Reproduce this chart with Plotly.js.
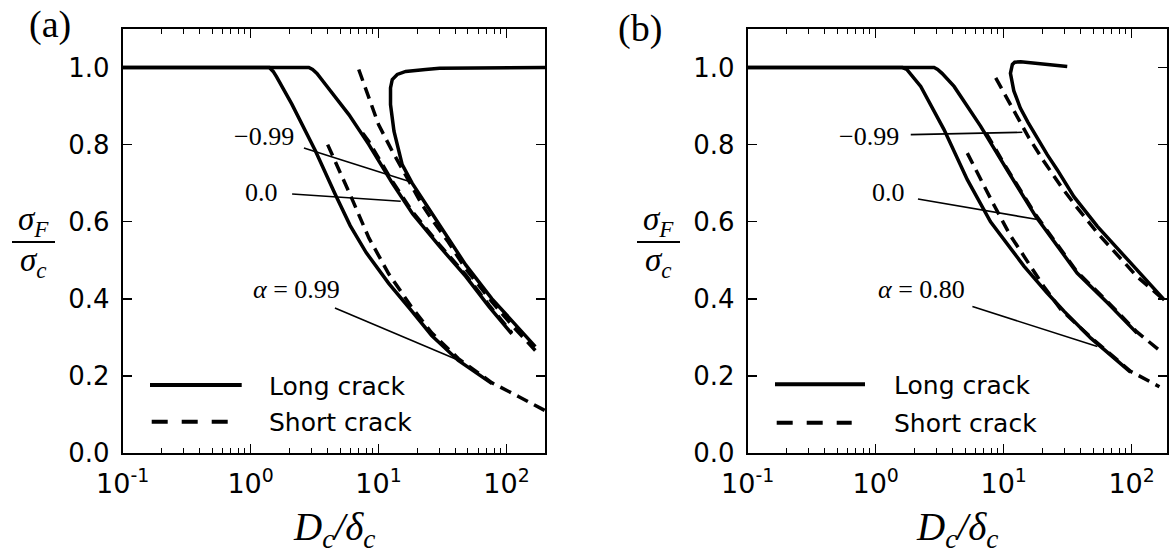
<!DOCTYPE html>
<html><head><meta charset="utf-8">
<script src="https://cdn.plot.ly/plotly-3.0.1.min.js"></script>
<style>body{margin:0;background:#fff}</style>
</head><body><div id="chart" style="width:1172px;height:556px"></div>
<script>
// ---------- Panel (a) data ----------
const a_x_long_099  = [0.1, 1.4, 1.5, 1.6, 2.1, 3.2, 4.6, 6.0, 8.0, 12, 18, 26, 42, 60, 77];
const a_y_long_099  = [1.0, 1.0, 0.99, 0.975, 0.905, 0.785, 0.67, 0.59, 0.52, 0.44, 0.37, 0.305, 0.24, 0.205, 0.18];
const a_x_short_099 = [4.0, 5.0, 6.0, 8.4, 12, 18, 26, 42, 77, 125, 200];
const a_y_short_099 = [0.80, 0.73, 0.67, 0.558, 0.465, 0.38, 0.312, 0.245, 0.182, 0.146, 0.11];
const a_x_long_00   = [0.1, 2.85, 3.05, 3.3, 3.85, 5.86, 8.4, 12.8, 18.5, 30, 48, 73, 110];
const a_y_long_00   = [1.0, 1.0, 0.995, 0.985, 0.956, 0.878, 0.80, 0.70, 0.62, 0.536, 0.458, 0.38, 0.309];
const a_x_short_00  = [7.5, 8.4, 12.8, 18.5, 30, 48, 73, 110];
const a_y_short_00  = [0.83, 0.808, 0.705, 0.625, 0.54, 0.462, 0.384, 0.312];
const a_x_long_m099 = [200, 40, 30, 23.3, 16.3, 14.0, 12.8, 12.4, 12.4, 13.2, 15.3, 18.3, 26.2, 35, 48, 77, 110, 168];
const a_y_long_m099 = [1.0, 1.0, 0.998, 0.995, 0.99, 0.982, 0.969, 0.947, 0.904, 0.835, 0.748, 0.70, 0.62, 0.558, 0.488, 0.40, 0.342, 0.276];
const a_x_short_m099 = [7.0, 8.4, 10.0, 12.8, 16.3, 21.9, 26.2, 35, 48, 77, 110, 168];
const a_y_short_m099 = [0.995, 0.921, 0.852, 0.783, 0.722, 0.644, 0.605, 0.548, 0.478, 0.392, 0.332, 0.266];

// ---------- Panel (b) data ----------
const b_x_long_080  = [0.1, 1.62, 1.75, 1.85, 2.25, 3.42, 5.2, 7.9, 14.4, 21.9, 29.6, 48, 98];
const b_y_long_080  = [1.0, 1.0, 0.995, 0.985, 0.951, 0.839, 0.709, 0.60, 0.485, 0.415, 0.368, 0.298, 0.21];
const b_x_short_080 = [5.2, 6.6, 8.5, 11.2, 15.3, 20.6, 28, 48, 98, 165];
const b_y_short_080 = [0.778, 0.709, 0.64, 0.566, 0.497, 0.432, 0.372, 0.30, 0.212, 0.172];
const b_x_long_00   = [0.1, 2.86, 3.05, 3.3, 4.1, 6.6, 10.6, 17.8, 37.5, 65, 110];
const b_y_long_00   = [1.0, 1.0, 0.995, 0.985, 0.951, 0.848, 0.735, 0.614, 0.467, 0.389, 0.311];
const b_x_short_00  = [7.3, 10.6, 17.8, 37.5, 65, 110, 170];
const b_y_short_00  = [0.83, 0.738, 0.618, 0.47, 0.392, 0.314, 0.263];
const b_x_long_m099 = [31.4, 21.9, 13.6, 12.2, 11.7, 11.3, 12.0, 13.5, 15.5, 21.9, 26.2, 35.4, 54, 104, 180];
const b_y_long_m099 = [1.003, 1.008, 1.015, 1.014, 1.008, 0.985, 0.94, 0.895, 0.858, 0.774, 0.735, 0.665, 0.588, 0.484, 0.397];
const b_x_short_m099 = [8.67, 12.05, 15.8, 20.6, 28.3, 37.6, 54, 110, 175];
const b_y_short_m099 = [0.973, 0.886, 0.817, 0.757, 0.69, 0.636, 0.571, 0.458, 0.40];

// ---------- labels / pointers ----------
const a_labels = ['\u22120.99', '0.0', '<i>\u03b1</i> = 0.99'];
const a_label_x = [2.25, 1.71, 1.0];
const a_label_y = [0.822, 0.675, 0.423];
const a_ptr_x = [[2.61, 17.2], [2.11, 14.9], [4.56, 45]];
const a_ptr_y = [[0.791, 0.705], [0.672, 0.653], [0.376, 0.237]];
const b_labels = ['\u22120.99', '0.0', '<i>\u03b1</i> = 0.80'];
const b_label_x = [1.57, 1.77, 1.0];
const b_label_y = [0.822, 0.675, 0.423];
const b_ptr_x = [[1.88, 14.0], [2.14, 18.9], [5.7, 54]];
const b_ptr_y = [[0.826, 0.832], [0.659, 0.605], [0.38, 0.276]];
const label_anchor = ['right', 'right', 'left'];

const xTickVals = [0.1, 1, 10, 100];
const xTickText = ['10<sup>-1</sup>', '10<sup>0</sup>', '10<sup>1</sup>', '10<sup>2</sup>'];
const yTickVals = [0.0, 0.2, 0.4, 0.6, 0.8, 1.0];
const legendNames = ['Long crack', 'Short crack'];
const panelNames = ['(a)', '(b)'];

const W = 1172, H = 556;
const DASH = '12px,7px';
const traces = [];
function curve(x, y, dash, ax) {
  traces.push({x: x, y: y, mode: 'lines', xaxis: ax[0], yaxis: ax[1], showlegend: false, hoverinfo: 'skip',
    line: {color: '#000', width: 3.5, dash: dash}});
}
function ptr(x, y, ax) {
  traces.push({x: x, y: y, mode: 'lines', xaxis: ax[0], yaxis: ax[1], showlegend: false, hoverinfo: 'skip',
    line: {color: '#000', width: 1.6}});
}
const A = ['x', 'y'], B = ['x2', 'y2'];
curve(a_x_long_099, a_y_long_099, 'solid', A);
curve(a_x_short_099, a_y_short_099, DASH, A);
curve(a_x_long_00, a_y_long_00, 'solid', A);
curve(a_x_short_00, a_y_short_00, DASH, A);
curve(a_x_long_m099, a_y_long_m099, 'solid', A);
curve(a_x_short_m099, a_y_short_m099, DASH, A);
curve(b_x_long_080, b_y_long_080, 'solid', B);
curve(b_x_short_080, b_y_short_080, DASH, B);
curve(b_x_long_00, b_y_long_00, 'solid', B);
curve(b_x_short_00, b_y_short_00, DASH, B);
curve(b_x_long_m099, b_y_long_m099, 'solid', B);
curve(b_x_short_m099, b_y_short_m099, DASH, B);
for (let i = 0; i < 3; i++) { ptr(a_ptr_x[i], a_ptr_y[i], A); ptr(b_ptr_x[i], b_ptr_y[i], B); }

const minorVals = [];
for (let d = -1; d <= 2; d++) for (let k = 2; k <= 9; k++) minorVals.push(k * Math.pow(10, d));

function xax(domain, rngMax, anchor) {
  return {type: 'log', range: [-1, Math.log10(rngMax)], domain: domain, anchor: anchor,
    tickmode: 'array', tickvals: xTickVals, ticktext: xTickText,
    showline: true, mirror: 'allticks', linecolor: '#000', linewidth: 2,
    ticks: 'inside', ticklen: 9, tickwidth: 1.5, tickcolor: '#000', showgrid: false, zeroline: false,
    ticklabelstandoff: 6,
    tickfont: {family: 'DejaVu Sans', size: 27, color: '#000'},
    minor: {tickmode: 'array', tickvals: minorVals, ticks: 'inside', ticklen: 5, tickwidth: 1, tickcolor: '#000', showgrid: false}};
}
function yax(domain, anchor) {
  return {range: [0, 1.1], domain: domain, anchor: anchor,
    tickmode: 'array', tickvals: yTickVals, tickformat: '.1f',
    showline: true, mirror: 'allticks', linecolor: '#000', linewidth: 2,
    ticks: 'inside', ticklen: 9, tickwidth: 1.5, tickcolor: '#000', showgrid: false, zeroline: false,
    ticklabelstandoff: 6,
    tickfont: {family: 'DejaVu Sans', size: 26, color: '#000'}};
}
const yDom = [1 - 453 / H, 1 - 29 / H];
const layout = {
  width: W, height: H, margin: {l: 0, r: 0, t: 0, b: 0},
  paper_bgcolor: '#fff', plot_bgcolor: '#fff', showlegend: false,
  xaxis: xax([122.7 / W, 545 / W], 200, 'y'),
  yaxis: yax(yDom, 'x'),
  xaxis2: xax([747.7 / W, 1167 / W], 189, 'y2'),
  yaxis2: yax(yDom, 'x2'),
  annotations: [], shapes: []
};
const serif = 'Liberation Serif';
const panels = [
  {xr: 'x', yr: 'y', labels: a_labels, lx: a_label_x, ly: a_label_y, left: 122.7, right: 545, legX: [150, 241.7, 151.7, 228.3, 266.7], legY: [385, 421.7], fx: 12, name: [50, 25]},
  {xr: 'x2', yr: 'y2', labels: b_labels, lx: b_label_x, ly: b_label_y, left: 747.7, right: 1167, legX: [775, 865, 776.7, 851.7, 891.7], legY: [384.3, 422.7], fx: 637, name: [640, 28]}
];
panels.forEach(p => {
  for (let i = 0; i < 3; i++) {
    layout.annotations.push({xref: p.xr, yref: p.yr, x: Math.log10(p.lx[i]), y: p.ly[i], text: p.labels[i],
      xanchor: label_anchor[i], yanchor: 'middle', showarrow: false,
      font: {family: serif, size: 26, color: '#000'}});
  }
  // legend samples
  layout.shapes.push({type: 'line', xref: 'paper', yref: 'paper', x0: p.legX[0] / W, x1: p.legX[1] / W,
    y0: 1 - p.legY[0] / H, y1: 1 - p.legY[0] / H, line: {color: '#000', width: 4}});
  layout.shapes.push({type: 'line', xref: 'paper', yref: 'paper', x0: p.legX[2] / W, x1: p.legX[3] / W,
    y0: 1 - p.legY[1] / H, y1: 1 - p.legY[1] / H, line: {color: '#000', width: 4, dash: '16px,14px'}});
  for (let j = 0; j < 2; j++) {
    layout.annotations.push({xref: 'paper', yref: 'paper', x: p.legX[4] / W, y: 1 - (p.legY[j] + 1) / H,
      text: legendNames[j], xanchor: 'left', yanchor: 'middle', showarrow: false,
      font: {family: 'DejaVu Sans', size: 25, color: '#000'}});
  }
  // x-axis title
  layout.annotations.push({xref: 'paper', yref: 'paper', x: (p.left + p.right) / 2 / W, y: 1 - 529 / H,
    text: '<i>D</i><sub><i>c</i></sub><i>/</i><i>\u03b4</i><sub><i>c</i></sub>', xanchor: 'center', yanchor: 'middle',
    showarrow: false, font: {family: serif, size: 39, color: '#000'}});
  // y-axis fraction title
  layout.annotations.push({xref: 'paper', yref: 'paper', x: (p.fx + 21) / W, y: 1 - 222 / H,
    text: '<i>\u03c3</i><sub><i>F</i></sub>', xanchor: 'center', yanchor: 'middle', showarrow: false,
    font: {family: serif, size: 33, color: '#000'}});
  layout.annotations.push({xref: 'paper', yref: 'paper', x: (p.fx + 21) / W, y: 1 - 262 / H,
    text: '<i>\u03c3</i><sub><i>c</i></sub>', xanchor: 'center', yanchor: 'middle', showarrow: false,
    font: {family: serif, size: 33, color: '#000'}});
  layout.shapes.push({type: 'line', xref: 'paper', yref: 'paper', x0: p.fx / W, x1: (p.fx + 43) / W,
    y0: 1 - 242 / H, y1: 1 - 242 / H, line: {color: '#000', width: 2}});
});
panelNames.forEach((n, i) => {
  const p = panels[i];
  layout.annotations.push({xref: 'paper', yref: 'paper', x: p.name[0] / W, y: 1 - p.name[1] / H, text: n,
    xanchor: 'center', yanchor: 'middle', showarrow: false, font: {family: serif, size: 38, color: '#000'}});
});
Plotly.newPlot('chart', traces, layout, {staticPlot: true});
</script></body></html>
